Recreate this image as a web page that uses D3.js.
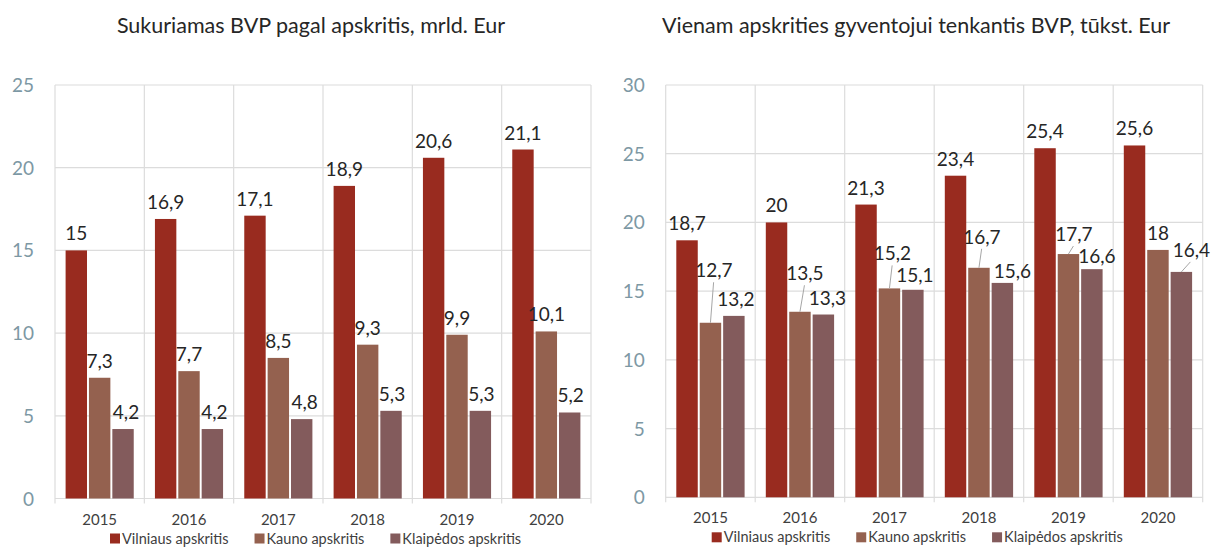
<!DOCTYPE html>
<html>
<head>
<meta charset="utf-8">
<script src="https://cdn.jsdelivr.net/npm/d3@7"></script>
<style>
  body { margin: 0; background: #fff; }
  svg { font-family: Lato, "Open Sans", sans-serif; }
</style>
</head>
<body>
<svg id="chart" width="1219" height="548"></svg>
<script>
// categories and series
const years = ["2015", "2016", "2017", "2018", "2019", "2020"];
const seriesNames = ["Vilniaus apskritis", "Kauno apskritis", "Klaipėdos apskritis"];

// left chart: mrld. Eur
const gdpVilnius = [15, 16.9, 17.1, 18.9, 20.6, 21.1];
const gdpKaunas = [7.3, 7.7, 8.5, 9.3, 9.9, 10.1];
const gdpKlaipeda = [4.2, 4.2, 4.8, 5.3, 5.3, 5.2];
const gdpTicks = [0, 5, 10, 15, 20, 25];

// right chart: tūkst. Eur per resident
const perCapVilnius = [18.7, 20, 21.3, 23.4, 25.4, 25.6];
const perCapKaunas = [12.7, 13.5, 15.2, 16.7, 17.7, 18];
const perCapKlaipeda = [13.2, 13.3, 15.1, 15.6, 16.6, 16.4];
const perCapTicks = [0, 5, 10, 15, 20, 25, 30];

const colors = ["#992b1f", "#94614f", "#835b5c"];

// label nudges (layout only): [series][year] -> [dx, dy]
const leftNudge = [
  [[0, 0], [0, 0], [0, 0], [0, 0], [0, 0], [0, 0]],
  [[0, 0], [0, 0], [0, 0], [0, 0], [0, 0], [0, 0]],
  [[3, 0], [2, 0], [3, 0], [1, 0], [1, 0], [1, 0]]
];
const rightNudge = [
  [[0, 0], [0, 0], [0, 0], [0, 0], [0, 0], [0, 0]],
  [[3.5, -35.5], [5, -21.5], [3, -18], [3, -14], [5.5, -3], [0, 0]],
  [[2, 0], [4, 0], [2, 2.5], [10, 5], [5, 4], [10, -5]]
];

const svg = d3.select("#chart");
const fmt = d => String(d).replace(".", ",");

function drawChart(opt) {
  const g = svg.append("g");

  const x0 = d3.scaleBand().domain(years).range([opt.left, opt.right]).padding(0);
  const bw = x0.bandwidth();
  const x1 = d3.scaleBand().domain(d3.range(3)).range([10.6, bw - 10.6]).paddingInner(0.084);
  const y = d3.scaleLinear().domain([0, d3.max(opt.ticks)]).range([opt.bottom, opt.top]);

  // horizontal grid
  g.selectAll("line.hgrid")
    .data(opt.ticks)
    .enter()
    .append("line")
    .attr("x1", opt.left).attr("x2", opt.right)
    .attr("y1", d => y(d)).attr("y2", d => y(d))
    .attr("stroke", "#dcdcdc").attr("stroke-width", 1.2);

  // vertical grid at category boundaries (+ tick below axis)
  const bounds = years.map(d => x0(d)).concat([opt.right]);
  g.selectAll("line.vgrid")
    .data(bounds)
    .enter()
    .append("line")
    .attr("x1", d => d).attr("x2", d => d)
    .attr("y1", opt.top).attr("y2", opt.bottom + 5)
    .attr("stroke", "#dcdcdc").attr("stroke-width", 1.2);

  // y tick labels
  g.selectAll("text.ytick")
    .data(opt.ticks)
    .enter()
    .append("text")
    .attr("x", opt.left - 21)
    .attr("y", d => y(d) + 7)
    .attr("text-anchor", "end")
    .attr("font-size", 19)
    .attr("fill", "#7d98a4")
    .text(d => d);

  // x tick labels
  g.selectAll("text.xtick")
    .data(years)
    .enter()
    .append("text")
    .attr("x", d => x0(d) + bw / 2)
    .attr("y", opt.bottom + 26)
    .attr("text-anchor", "middle")
    .attr("font-size", 15)
    .attr("fill", "#404040")
    .text(d => d);

  // bars
  opt.series.forEach((vals, si) => {
    const sg = g.append("g");
    sg.selectAll("rect")
      .data(vals)
      .enter()
      .append("rect")
      .attr("x", (d, i) => x0(years[i]) + x1(si))
      .attr("y", d => y(d))
      .attr("width", x1.bandwidth())
      .attr("height", d => opt.bottom - y(d))
      .attr("fill", colors[si]);
  });

  // value labels with leader lines
  opt.series.forEach((vals, si) => {
    vals.forEach((v, i) => {
      const cx = x0(years[i]) + x1(si) + x1.bandwidth() / 2;
      const top = y(v);
      const [dx, dy] = opt.nudge[si][i];
      const lx = cx + dx;
      const ly = top - 10 + dy;
      if (dy < -2) {
        g.append("line")
          .attr("x1", cx).attr("y1", top)
          .attr("x2", cx + dx * 0.9).attr("y2", ly + 5)
          .attr("stroke", "#a6a6a6").attr("stroke-width", 1);
      }
      g.append("text")
        .attr("x", lx)
        .attr("y", ly)
        .attr("text-anchor", "middle")
        .attr("font-size", 19)
        .attr("fill", "#262626")
        .text(fmt(v));
    });
  });

  // title
  g.append("text")
    .attr("x", opt.titleX)
    .attr("y", 33)
    .attr("text-anchor", "middle")
    .attr("font-size", 21.5)
    .attr("fill", "#262626")
    .text(opt.title);

  // legend
  let lx = opt.legendX;
  seriesNames.forEach((name, si) => {
    g.append("rect")
      .attr("x", lx).attr("y", opt.bottom + 35)
      .attr("width", 10).attr("height", 10)
      .attr("fill", colors[si]);
    const t = g.append("text")
      .attr("x", lx + 12)
      .attr("y", opt.bottom + 45)
      .attr("font-size", 14.5)
      .attr("fill", "#404040")
      .text(name);
    lx += 12 + t.node().getComputedTextLength() + 26;
  });
}

drawChart({
  left: 55, right: 591, top: 85, bottom: 498.5,
  ticks: gdpTicks,
  series: [gdpVilnius, gdpKaunas, gdpKlaipeda],
  nudge: leftNudge,
  title: "Sukuriamas BVP pagal apskritis, mrld. Eur",
  titleX: 311,
  legendX: 110
});

drawChart({
  left: 665.7, right: 1202.7, top: 85, bottom: 497.3,
  ticks: perCapTicks,
  series: [perCapVilnius, perCapKaunas, perCapKlaipeda],
  nudge: rightNudge,
  title: "Vienam apskrities gyventojui tenkantis BVP, tūkst. Eur",
  titleX: 916,
  legendX: 711.7
});
</script>
</body>
</html>
